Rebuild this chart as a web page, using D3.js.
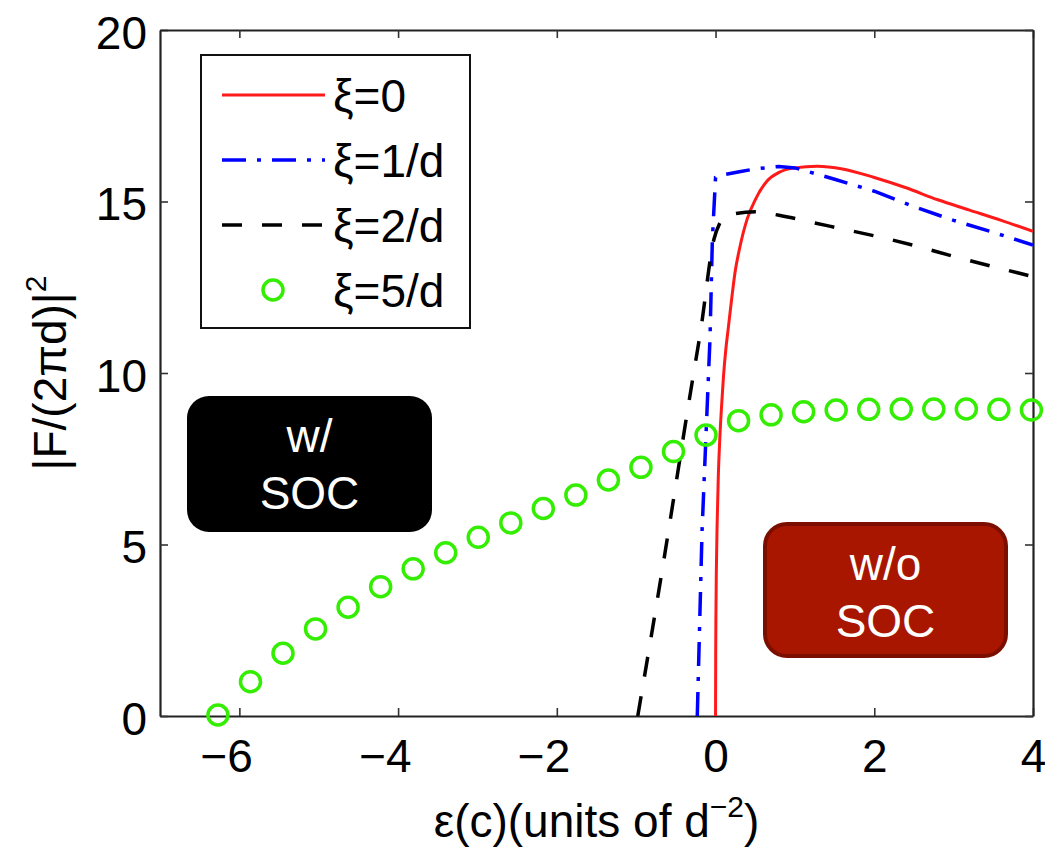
<!DOCTYPE html>
<html>
<head>
<meta charset="utf-8">
<script src="https://cdn.jsdelivr.net/npm/d3@7"></script>
<style>
  body { margin: 0; background: #fff; }
  text { font-family: "Liberation Sans", Arial, Helvetica, sans-serif; }
</style>
</head>
<body>
<script>
// data
var xTicks = [-6, -4, -2, 0, 2, 4];
var yTicks = [0, 5, 10, 15, 20];

// xi = 0
var redX = [0, 0.002, 0.005, 0.01, 0.02, 0.035, 0.05, 0.075, 0.1, 0.13, 0.16, 0.2, 0.25, 0.3, 0.4, 0.5, 0.65, 0.8, 1.0, 1.28, 1.6, 2.0, 2.4, 2.8, 3.2, 3.6, 4.0];
var redY = [0, 1.8, 3.0, 4.2, 5.6, 7.0, 7.9, 9.0, 9.9, 10.7, 11.3, 12.1, 13.0, 13.6, 14.5, 15.05, 15.6, 15.85, 15.98, 16.03, 15.95, 15.7, 15.4, 15.05, 14.75, 14.45, 14.13];

// xi = 1/d
var blueX = [-0.23, -0.17, -0.07, -0.04, 0, 0.1, 0.3, 0.5, 0.8, 1.0, 1.5, 2.0, 2.5, 3.0, 3.5, 4.0];
var blueY = [0, 5.4, 11.0, 13.9, 15.7, 15.78, 15.87, 15.95, 16.02, 15.98, 15.65, 15.3, 14.85, 14.45, 14.1, 13.73];

// xi = 2/d
var blackX = [-0.98, -0.69, -0.29, -0.19, -0.02, 0.05, 0.15, 0.5, 0.8, 1.2, 1.6, 2.0, 2.5, 3.0, 3.5, 4.0];
var blackY = [0, 4.0, 9.8, 11.2, 13.9, 14.35, 14.6, 14.7, 14.6, 14.4, 14.2, 14.0, 13.72, 13.4, 13.1, 12.81];

// xi = 5/d (markers)
var greenX = [-6.27, -5.86, -5.45, -5.04, -4.63, -4.22, -3.81, -3.40, -2.99, -2.58, -2.17, -1.76, -1.35, -0.94, -0.53, -0.12, 0.29, 0.70, 1.11, 1.52, 1.93, 2.34, 2.75, 3.16, 3.57, 3.98];
var greenY = [0.03, 1.0, 1.83, 2.54, 3.17, 3.77, 4.29, 4.76, 5.21, 5.63, 6.05, 6.44, 6.88, 7.25, 7.71, 8.19, 8.61, 8.78, 8.87, 8.92, 8.94, 8.95, 8.95, 8.95, 8.94, 8.92];

var legendLabels = ["\u03BE=0", "\u03BE=1/d", "\u03BE=2/d", "\u03BE=5/d"];

// chart setup
var svgWidth = 1045;
var svgHeight = 847;
var margin = { top: 30, right: 12, bottom: 131, left: 160 };
var width = svgWidth - margin.left - margin.right;
var height = svgHeight - margin.top - margin.bottom;

var svg = d3.select("body").append("svg")
  .attr("width", svgWidth)
  .attr("height", svgHeight);

svg.append("rect").attr("width", svgWidth).attr("height", svgHeight).attr("fill", "#fff");

var chartGroup = svg.append("g")
  .attr("transform", `translate(${margin.left}, ${margin.top})`);

var xScale = d3.scaleLinear().domain([-7, 4]).range([0, width]);
var yScale = d3.scaleLinear().domain([0, 20]).range([height, 0]);

chartGroup.append("clipPath").attr("id", "plotclip")
  .append("rect").attr("width", width).attr("height", height);

var fontSize = 46;

// axes, inward ticks on all four sides
var minus = "\u2212";
var bottomAxis = d3.axisBottom(xScale).tickValues(xTicks).tickSizeInner(-8).tickSizeOuter(0).tickPadding(23)
  .tickFormat(d => d < 0 ? minus + Math.abs(d) : d);
var leftAxis = d3.axisLeft(yScale).tickValues(yTicks).tickSizeInner(-8).tickSizeOuter(0).tickPadding(13);
var topAxis = d3.axisTop(xScale).tickValues(xTicks).tickSizeInner(-8).tickSizeOuter(0).tickFormat("");
var rightAxis = d3.axisRight(yScale).tickValues(yTicks).tickSizeInner(-8).tickSizeOuter(0).tickFormat("");

var gx = chartGroup.append("g").attr("transform", `translate(0, ${height})`).call(bottomAxis);
var gy = chartGroup.append("g").call(leftAxis);
var gt = chartGroup.append("g").call(topAxis);
var gr = chartGroup.append("g").attr("transform", `translate(${width}, 0)`).call(rightAxis);

[gx, gy, gt, gr].forEach(function(g) {
  g.selectAll(".domain").attr("stroke", "#222").attr("stroke-width", 2.2);
  g.selectAll(".tick line").attr("stroke", "#333").attr("stroke-width", 1.6);
  g.selectAll("text").attr("font-size", fontSize + "px").attr("fill", "#000");
});

// negative labels: keep the digit centred on the tick
gx.selectAll(".tick text")
  .attr("text-anchor", d => d < 0 ? "end" : "middle")
  .attr("x", d => d < 0 ? 13 : 0);
gy.selectAll(".tick text").attr("dy", "0.4em");

// lines
var plot = chartGroup.append("g").attr("clip-path", "url(#plotclip)");

var series = [
  { x: redX, y: redY, color: "#ff1a1a", width: 3, dash: null, curve: d3.curveMonotoneX },
  { x: blueX, y: blueY, color: "#0000ff", width: 3.5, dash: "24,11,4,11", curve: d3.curveLinear },
  { x: blackX, y: blackY, color: "#000", width: 3.5, dash: "20,20", curve: d3.curveMonotoneX }
];

series.forEach(function(s) {
  var lineGen = d3.line().x(d => xScale(d[0])).y(d => yScale(d[1])).curve(s.curve);
  plot.append("path")
    .datum(s.x.map((v, i) => [v, s.y[i]]))
    .attr("d", lineGen)
    .attr("fill", "none")
    .attr("stroke", s.color)
    .attr("stroke-width", s.width)
    .attr("stroke-dasharray", s.dash);
});

chartGroup.append("g").selectAll("circle")
  .data(greenX.map((v, i) => [v, greenY[i]]))
  .enter()
  .append("circle")
  .attr("cx", d => xScale(d[0]))
  .attr("cy", d => yScale(d[1]))
  .attr("r", 10)
  .attr("fill", "none")
  .attr("stroke", "#33ee00")
  .attr("stroke-width", 3.5);

// annotation boxes
function tagBox(x, y, w, h, fill, stroke, lines) {
  var g = svg.append("g");
  g.append("rect")
    .attr("x", x).attr("y", y).attr("width", w).attr("height", h)
    .attr("rx", 22)
    .attr("fill", fill)
    .attr("stroke", stroke)
    .attr("stroke-width", stroke ? 4 : 0);
  lines.forEach(function(t, i) {
    g.append("text")
      .attr("x", x + w / 2)
      .attr("y", y + 56 + i * 57)
      .attr("text-anchor", "middle")
      .attr("font-size", fontSize + "px")
      .attr("fill", "#fff")
      .text(t);
  });
}
tagBox(187, 396, 245, 136, "#000", null, ["w/", "SOC"]);
tagBox(765, 524, 241, 132, "#a81600", "#7c0e00", ["w/o", "SOC"]);

// legend
var legend = svg.append("g");
legend.append("rect")
  .attr("x", 201).attr("y", 55).attr("width", 269).attr("height", 273)
  .attr("fill", "#fff").attr("stroke", "#111").attr("stroke-width", 2);

legendLabels.forEach(function(lbl, i) {
  var ly = 95 + i * 65;
  if (i < 3) {
    legend.append("line")
      .attr("x1", 222).attr("x2", 325).attr("y1", ly).attr("y2", ly)
      .attr("stroke", series[i].color)
      .attr("stroke-width", series[i].width)
      .attr("stroke-dasharray", series[i].dash);
  } else {
    legend.append("circle")
      .attr("cx", 273).attr("cy", ly).attr("r", 10)
      .attr("fill", "none").attr("stroke", "#33ee00").attr("stroke-width", 3.5);
  }
  legend.append("text")
    .attr("x", 333).attr("y", ly + 17)
    .attr("font-size", "46px")
    .attr("fill", "#000")
    .text(lbl);
});

// axis labels
var xLabel = svg.append("text")
  .attr("x", margin.left + width / 2)
  .attr("y", 837)
  .attr("text-anchor", "middle")
  .attr("font-size", fontSize + "px")
  .attr("fill", "#000");
xLabel.append("tspan").text("\u03B5(c)(units of d");
xLabel.append("tspan").attr("dy", -20).attr("font-size", "30px").text(minus + "2");
xLabel.append("tspan").attr("dy", 20).text(")");

var yLabel = svg.append("text")
  .attr("transform", "translate(66, 373) rotate(-90)")
  .attr("text-anchor", "middle")
  .attr("font-size", fontSize + "px")
  .attr("fill", "#000");
yLabel.append("tspan").text("|F/(2\u03C0d)|");
yLabel.append("tspan").attr("dy", -20).attr("font-size", "30px").text("2");
</script>
</body>
</html>
